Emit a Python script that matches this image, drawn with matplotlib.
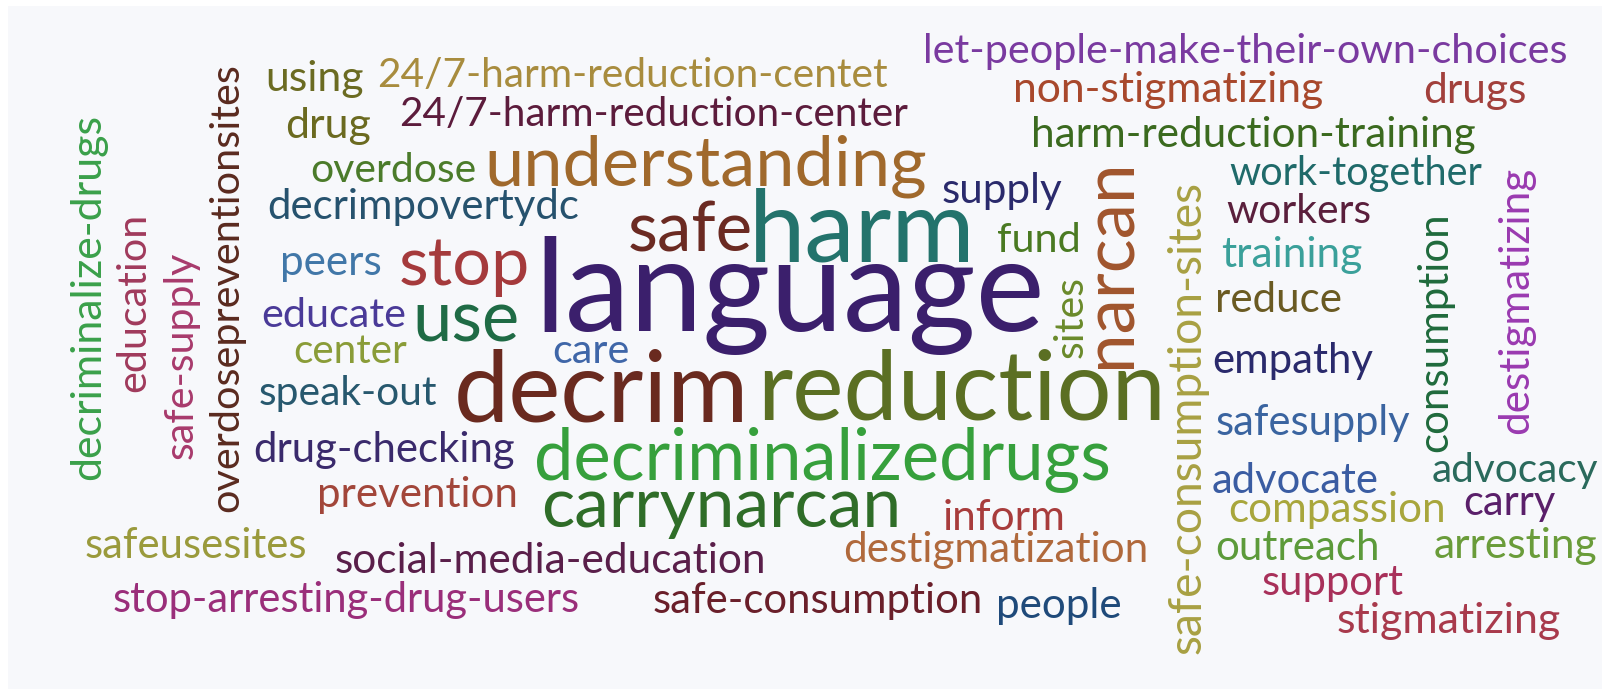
import matplotlib
matplotlib.use('Agg')
import matplotlib.pyplot as plt
from matplotlib.textpath import TextPath
from matplotlib.font_manager import FontProperties
from matplotlib.patches import Rectangle

# ---------------- data: words and their colours ----------------
words = [
    "language", "harm", "reduction", "decrim", "safe", "understanding",
    "stop", "use", "decriminalizedrugs", "carrynarcan",
    "24/7-harm-reduction-centet", "24/7-harm-reduction-center",
    "using", "drug", "overdose", "decrimpovertydc", "peers", "educate",
    "center", "speak-out", "drug-checking", "prevention", "care",
    "safeusesites", "social-media-education", "stop-arresting-drug-users",
    "safe-consumption", "inform", "destigmatization", "people", "supply",
    "fund", "let-people-make-their-own-choices", "non-stigmatizing",
    "drugs", "harm-reduction-training", "work-together", "workers",
    "training", "reduce", "empathy", "safesupply", "advocate",
    "compassion", "outreach", "support", "stigmatizing", "advocacy",
    "carry", "arresting",
    "decriminalize-drugs", "education", "safe-supply",
    "overdosepreventionsites", "narcan", "sites", "safe-consumption-sites",
    "consumption", "destigmatizing",
]

colors = [
    "#3b1f6c", "#23736c", "#5b6f23", "#6a2a1f", "#6b2a22", "#a0692c",
    "#a53a3c", "#1f6b45", "#36a03c", "#2f6d28",
    "#a88c3e", "#5c1c3c",
    "#6b6b22", "#6b6a20", "#4b7b2a", "#26526e", "#4177a8", "#4a3a98",
    "#8a9c38", "#27586e", "#3a2a6c", "#a2463a", "#3f66a8",
    "#9a9a3c", "#5a1f4a", "#9a2e7a",
    "#6a1f2a", "#a83c3c", "#b0693c", "#1f4a7a", "#2a2a6c",
    "#4a7a22", "#7a3aa0", "#a8482c",
    "#a2403c", "#3b6a1f", "#1f6a6a", "#5a1f3c",
    "#3aa09a", "#6a5a22", "#2a2a6c", "#3a64a0", "#3a5ca2",
    "#a8a63c", "#5c9a3a", "#a8305a", "#a83a4c", "#2a6a5c",
    "#5a1f6a", "#6a9c3a",
    "#3aa04a", "#a03a5c", "#a83a6c",
    "#5a2a1f", "#a0552d", "#6a8a2a", "#a8a042",
    "#1f6a3c", "#9a3ab0",
]

# ---------------- layout (reference pixel frame) ----------------
# horizontal: (ink left x, ink right x, baseline y, 0)
# vertical:   (baseline x, ink bottom y, ink top y, 90)
layout = [
    (544, 1040, 331, 0), (756, 969, 262, 0), (764, 1159, 420, 0),
    (458, 742, 422, 0), (630, 750, 252, 0), (489, 926, 186, 0),
    (401, 527, 285, 0), (417, 517, 342, 0), (537, 1108, 480, 0),
    (544, 897, 527, 0),
    (379, 887, 87, 0), (401, 909, 126, 0),
    (268, 363, 91, 0), (287, 370, 138, 0), (312, 475, 182, 0),
    (269, 578, 219, 0), (283, 380, 275, 0), (263, 405, 327, 0),
    (295, 407, 363, 0), (260, 437, 405, 0), (255, 514, 462, 0),
    (320, 515, 507, 0), (554, 628, 363, 0),
    (86, 305, 558, 0), (336, 764, 573, 0), (114, 578, 612, 0),
    (654, 980, 613, 0), (945, 1063, 530, 0), (845, 1146, 562, 0),
    (999, 1120, 618, 0), (943, 1062, 203, 0),
    (998, 1078, 252, 0), (926, 1565, 63, 0), (1016, 1323, 102, 0),
    (1425, 1525, 103, 0), (1034, 1475, 147, 0), (1230, 1483, 185, 0),
    (1227, 1370, 223, 0),
    (1222, 1362, 267, 0), (1218, 1340, 312, 0), (1214, 1373, 373, 0),
    (1217, 1410, 435, 0), (1213, 1377, 493, 0),
    (1230, 1443, 522, 0), (1217, 1377, 560, 0), (1263, 1403, 595, 0),
    (1338, 1560, 633, 0), (1433, 1598, 482, 0),
    (1465, 1555, 515, 0), (1435, 1597, 558, 0),
    (100, 478, 115, 90), (145, 390, 215, 90), (193, 458, 252, 90),
    (238, 510, 65, 90), (1130, 363, 163, 90), (1083, 357, 278, 90),
    (1200, 652, 182, 90),
    (1447, 450, 215, 90), (1528, 432, 167, 90),
]

W, H, DPI = 1602, 689, 100
fig = plt.figure(figsize=(W / DPI, H / DPI), dpi=DPI)
fig.patch.set_facecolor('white')
ax = fig.add_axes([0, 0, 1, 1])
ax.set_xlim(0, W)
ax.set_ylim(H, 0)
ax.axis('off')
ax.add_patch(Rectangle((8, 6), W - 8, H - 6, facecolor='#f7f8fb',
                       edgecolor='none', zorder=0))

fp = FontProperties(family='Lato')
REF = 100.0
for word, color, (a, b, c, rot) in zip(words, colors, layout):
    ext = TextPath((0, 0), word, size=REF, prop=fp).get_extents()
    ink = ext.x1 - ext.x0
    if rot == 0:
        scale = (b - a) / ink
        x, y = a - ext.x0 * scale, c
    else:
        scale = (b - c) / ink
        x, y = a, b + ext.x0 * scale
    pt = REF * scale * 72.0 / DPI
    ax.text(x, y, word, fontsize=pt, fontproperties=None, family='Lato',
            color=color, rotation=rot, rotation_mode='anchor',
            ha='left', va='baseline', zorder=2)

fig.savefig('out.png', dpi=DPI, facecolor='white')
